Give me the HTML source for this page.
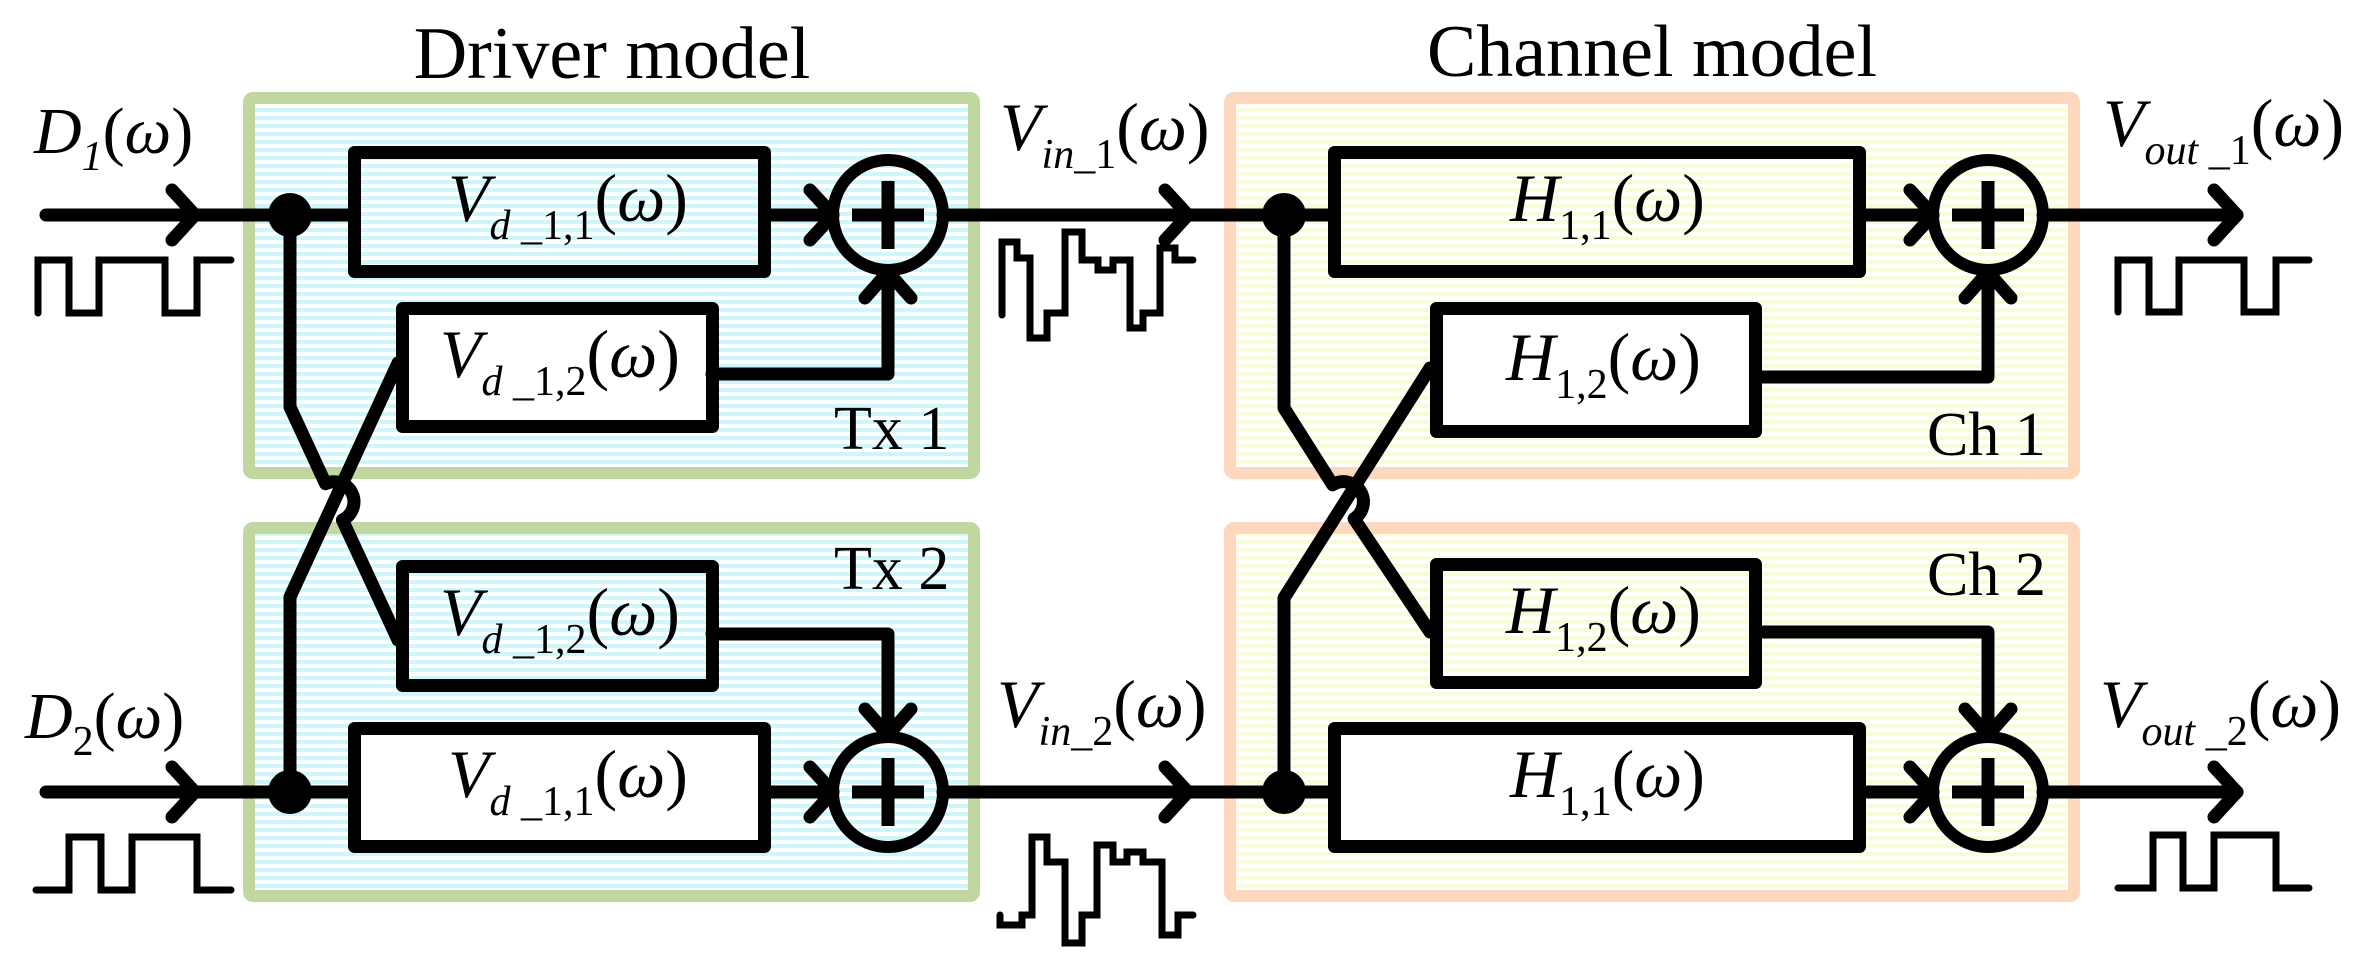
<!DOCTYPE html>
<html><head><meta charset="utf-8"><style>
html,body{margin:0;padding:0;background:#fff;}
svg{display:block;}
text{font-family:"Liberation Serif",serif;fill:#000;}
</style></head><body>
<svg width="2358" height="977" viewBox="0 0 2358 977" xmlns="http://www.w3.org/2000/svg">
<defs>
<pattern id="cy" width="8" height="8" patternUnits="userSpaceOnUse"><rect width="8" height="8" fill="#fff"/><rect y="4" width="8" height="4" fill="#ccf8fc"/></pattern>
<pattern id="yl" width="8" height="8" patternUnits="userSpaceOnUse"><rect width="8" height="8" fill="#fff"/><rect y="4" width="8" height="4" fill="#fafcd6"/></pattern>
</defs>

<!-- titles -->
<text x="612" y="78" font-size="74" text-anchor="middle">Driver model</text>
<text x="1652" y="76" font-size="74" text-anchor="middle">Channel model</text>

<!-- container boxes -->
<rect x="249" y="98" width="725" height="375" rx="4" fill="url(#cy)" stroke="#c0d8a0" stroke-width="12"/>
<rect x="249" y="528" width="725" height="368" rx="4" fill="url(#cy)" stroke="#c0d8a0" stroke-width="12"/>
<rect x="1230" y="98" width="844" height="375" rx="4" fill="url(#yl)" stroke="#fed8bc" stroke-width="12"/>
<rect x="1230" y="528" width="844" height="368" rx="4" fill="url(#yl)" stroke="#fed8bc" stroke-width="12"/>

<g fill="none" stroke="#000" stroke-width="13" stroke-linecap="round" stroke-linejoin="round">
<!-- driver inner boxes -->
<rect x="354.5" y="152.5" width="410" height="119" fill="url(#cy)" stroke-linecap="butt"/>
<rect x="402.5" y="308.5" width="310" height="118" fill="#fff"/>
<rect x="402.5" y="566.5" width="310" height="119" fill="url(#cy)"/>
<rect x="354.5" y="728.5" width="410" height="118" fill="#fff"/>
<!-- channel inner boxes -->
<rect x="1334.5" y="152.5" width="525" height="119" fill="url(#yl)"/>
<rect x="1436.5" y="308.5" width="319" height="123" fill="#fff"/>
<rect x="1436.5" y="564.5" width="319" height="118" fill="url(#yl)"/>
<rect x="1334.5" y="728.5" width="525" height="118" fill="#fff"/>

<!-- main horizontal lines -->
<path d="M46,215 H354"/>
<path d="M46,792 H354"/>
<path d="M765,215 H833"/><path d="M810,190 L833,215 L810,240"/>
<path d="M765,792 H833"/><path d="M810,767 L833,792 L810,817"/>
<path d="M172,190 L195,215 L172,240"/>
<path d="M172,767 L195,792 L172,817"/>
<path d="M943,215 H1334"/><path d="M1165,190 L1188,215 L1165,240"/>
<path d="M943,792 H1334"/><path d="M1165,767 L1188,792 L1165,817"/>
<path d="M1860,215 H1933"/><path d="M1910,190 L1933,215 L1910,240"/>
<path d="M1860,792 H1933"/><path d="M1910,767 L1933,792 L1910,817"/>
<path d="M2043,215 H2237"/><path d="M2214,190 L2237,215 L2214,240"/>
<path d="M2043,792 H2237"/><path d="M2214,767 L2237,792 L2214,817"/>

<!-- cross connections into sums -->
<path d="M712,374 H888 V272"/><path d="M865,298 L888,272 L911,298"/>
<path d="M712,634 H888 V735"/><path d="M865,709 L888,735 L911,709"/>
<path d="M1756,377 H1988 V272"/><path d="M1965,298 L1988,272 L2011,298"/>
<path d="M1756,632 H1988 V735"/><path d="M1965,709 L1988,735 L2011,709"/>

<!-- crossing wires left -->
<path d="M290,215 V407 L325.5,483.7 A20,20 0 0 1 342.4,520 L398,640"/>
<path d="M290,792 V597 L398,363"/>
<!-- crossing wires right -->
<path d="M1284,215 V408 L1332.7,484.8 A20,20 0 0 1 1354.1,518.7 L1430,632"/>
<path d="M1284,792 V598 L1430,368"/>

<!-- sum circles -->
<circle cx="888" cy="215" r="55" stroke-width="12" fill="none"/>
<circle cx="888" cy="792" r="55" stroke-width="12" fill="none"/>
<circle cx="1988" cy="215" r="55" stroke-width="12" fill="none"/>
<circle cx="1988" cy="792" r="55" stroke-width="12" fill="none"/>
<path d="M852,215 H924 M888,181 V249" stroke-linecap="butt"/>
<path d="M852,792 H924 M888,758 V826" stroke-linecap="butt"/>
<path d="M1952,215 H2024 M1988,181 V249" stroke-linecap="butt"/>
<path d="M1952,792 H2024 M1988,758 V826" stroke-linecap="butt"/>
</g>

<!-- dots -->
<circle cx="290" cy="215" r="22" fill="#000"/>
<circle cx="290" cy="792" r="22" fill="#000"/>
<circle cx="1284" cy="215" r="22" fill="#000"/>
<circle cx="1284" cy="792" r="22" fill="#000"/>

<!-- waveforms -->
<g fill="none" stroke="#000" stroke-width="7" stroke-linecap="round" stroke-linejoin="miter">
<path d="M38,313 V260 H69 V313 H99 V260 H165 V313 H197 V260 H231"/>
<path d="M36,890 H69 V837 H101 V890 H132 V837 H197 V890 H231"/>
<path d="M2118,312 V260 H2149 V312 H2179 V260 H2244 V312 H2276 V260 H2309"/>
<path d="M2118,888 H2153 V835 H2183 V888 H2214 V835 H2276 V888 H2309"/>
<path d="M1002,315 V242 H1017 V258 H1030 V338 H1047 V313 H1065 V232 H1082 V260 H1098 V270 H1113 V260 H1130 V328 H1143 V313 H1160 V248 H1175 V260 H1193"/>
<path d="M1000,915 V925 H1022 V915 H1032 V837 H1047 V862 H1065 V943 H1082 V915 H1097 V845 H1113 V862 H1127 V852 H1143 V862 H1162 V935 H1178 V915 H1193"/>
</g>

<!-- box labels -->
<text x="448" y="221" font-size="68" font-style="italic">V<tspan font-size="42" dy="18">d</tspan><tspan font-size="42" font-style="normal"> _1,1</tspan><tspan dy="-18" font-style="normal">(</tspan>ω<tspan font-style="normal">)</tspan></text>
<text x="440" y="377" font-size="68" font-style="italic">V<tspan font-size="42" dy="18">d</tspan><tspan font-size="42" font-style="normal"> _1,2</tspan><tspan dy="-18" font-style="normal">(</tspan>ω<tspan font-style="normal">)</tspan></text>
<text x="440" y="635" font-size="68" font-style="italic">V<tspan font-size="42" dy="18">d</tspan><tspan font-size="42" font-style="normal"> _1,2</tspan><tspan dy="-18" font-style="normal">(</tspan>ω<tspan font-style="normal">)</tspan></text>
<text x="448" y="797" font-size="68" font-style="italic">V<tspan font-size="42" dy="18">d</tspan><tspan font-size="42" font-style="normal"> _1,1</tspan><tspan dy="-18" font-style="normal">(</tspan>ω<tspan font-style="normal">)</tspan></text>

<text x="1510" y="221" font-size="68" font-style="italic">H<tspan font-size="42" dy="18" font-style="normal">1,1</tspan><tspan dy="-18" font-style="normal">(</tspan>ω<tspan font-style="normal">)</tspan></text>
<text x="1506" y="380" font-size="68" font-style="italic">H<tspan font-size="42" dy="18" font-style="normal">1,2</tspan><tspan dy="-18" font-style="normal">(</tspan>ω<tspan font-style="normal">)</tspan></text>
<text x="1506" y="633" font-size="68" font-style="italic">H<tspan font-size="42" dy="18" font-style="normal">1,2</tspan><tspan dy="-18" font-style="normal">(</tspan>ω<tspan font-style="normal">)</tspan></text>
<text x="1510" y="797" font-size="68" font-style="italic">H<tspan font-size="42" dy="18" font-style="normal">1,1</tspan><tspan dy="-18" font-style="normal">(</tspan>ω<tspan font-style="normal">)</tspan></text>

<!-- signal labels -->
<text x="34" y="153" font-size="66" font-style="italic">D<tspan font-size="42" dy="17">1</tspan><tspan dy="-17" font-style="normal">(</tspan>ω<tspan font-style="normal">)</tspan></text>
<text x="25" y="738" font-size="66" font-style="italic">D<tspan font-size="42" dy="17" font-style="normal">2</tspan><tspan dy="-17" font-style="normal">(</tspan>ω<tspan font-style="normal">)</tspan></text>
<text x="1000" y="150" font-size="68" font-style="italic">V<tspan font-size="42" dy="18">in</tspan><tspan font-size="42" font-style="normal">_1</tspan><tspan dy="-18" font-style="normal">(</tspan>ω<tspan font-style="normal">)</tspan></text>
<text x="997" y="727" font-size="68" font-style="italic">V<tspan font-size="42" dy="18">in</tspan><tspan font-size="42" font-style="normal">_2</tspan><tspan dy="-18" font-style="normal">(</tspan>ω<tspan font-style="normal">)</tspan></text>
<text x="2103" y="146" font-size="68" font-style="italic">V<tspan font-size="42" dy="18">out</tspan><tspan font-size="42" font-style="normal"> _1</tspan><tspan dy="-18" font-style="normal">(</tspan>ω<tspan font-style="normal">)</tspan></text>
<text x="2100" y="727" font-size="68" font-style="italic">V<tspan font-size="42" dy="18">out</tspan><tspan font-size="42" font-style="normal"> _2</tspan><tspan dy="-18" font-style="normal">(</tspan>ω<tspan font-style="normal">)</tspan></text>

<!-- block labels -->
<text x="834" y="449" font-size="62">Tx 1</text>
<text x="834" y="589" font-size="62">Tx 2</text>
<text x="1927" y="455" font-size="62">Ch 1</text>
<text x="1927" y="595" font-size="62">Ch 2</text>
</svg>
</body></html>
